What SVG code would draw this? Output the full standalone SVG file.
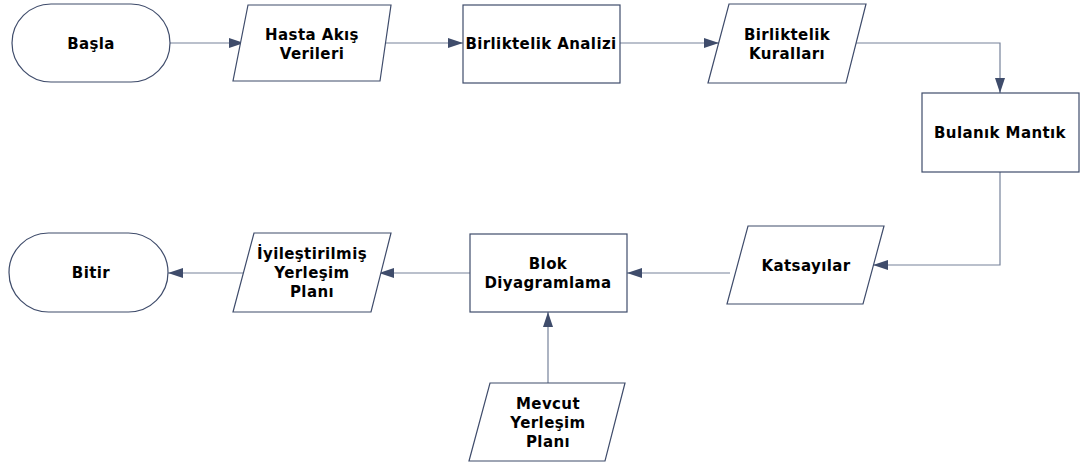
<svg xmlns="http://www.w3.org/2000/svg" width="1082" height="468" viewBox="0 0 1082 468">
  <style>
    .shape { fill: #ffffff; stroke: #3f4c6b; stroke-width: 1.2; }
    .lbl { font-family: "DejaVu Sans", Verdana, sans-serif; font-weight: bold; font-size: 15px; letter-spacing: 0.4px; fill: #000000; text-anchor: middle; }
    .conn { fill: none; stroke: #76829a; stroke-width: 1.2; marker-end: url(#arrow); }
  </style>
  <defs>
    <marker id="arrow" viewBox="0 0 15 10" refX="15" refY="5" markerWidth="15" markerHeight="10" markerUnits="userSpaceOnUse" orient="auto">
      <path d="M0,0 L15,5 L0,10 Z" fill="#3f4c6b"/>
    </marker>
  </defs>

  <!-- connectors -->
  <g id="connectors">
    <path class="conn" d="M170,43 H244"/>
    <path class="conn" d="M383,43 H463"/>
    <path class="conn" d="M620,43 H719"/>
    <path class="conn" d="M856,43 H1000 V93"/>
    <path class="conn" d="M1000,172 V265 H873"/>
    <path class="conn" d="M730,273 H627"/>
    <path class="conn" d="M548,383 V312"/>
    <path class="conn" d="M470,273 H379"/>
    <path class="conn" d="M243,273 H168"/>
  </g>

  <!-- start -->
  <g id="basla">
    <rect class="shape" x="12" y="4" width="158" height="78" rx="39" ry="39"/>
    <text class="lbl" x="91" y="49">Başla</text>
  </g>

  <g id="hasta-akis-verileri">
    <polygon class="shape" points="248,5 391,5 380,81 233,81"/>
    <text class="lbl" x="312" y="40">Hasta Akış</text>
    <text class="lbl" x="312" y="59">Verileri</text>
  </g>

  <g id="birliktelik-analizi">
    <rect class="shape" x="463" y="5" width="157" height="78"/>
    <text class="lbl" x="541" y="49">Birliktelik Analizi</text>
  </g>

  <g id="birliktelik-kurallari">
    <polygon class="shape" points="729,4 866,4 846,83 708,83"/>
    <text class="lbl" x="787" y="40">Birliktelik</text>
    <text class="lbl" x="787" y="59">Kuralları</text>
  </g>

  <g id="bulanik-mantik">
    <rect class="shape" x="922" y="93" width="157" height="79"/>
    <text class="lbl" x="1000" y="138">Bulanık Mantık</text>
  </g>

  <g id="katsayilar">
    <polygon class="shape" points="748,226 884,226 863,304 727,304"/>
    <text class="lbl" x="806" y="271">Katsayılar</text>
  </g>

  <g id="blok-diyagramlama">
    <rect class="shape" x="470" y="234" width="157" height="78"/>
    <text class="lbl" x="548" y="269">Blok</text>
    <text class="lbl" x="548" y="288">Diyagramlama</text>
  </g>

  <g id="mevcut-yerlesim-plani">
    <polygon class="shape" points="490,383 625,383 605,461 469,461"/>
    <text class="lbl" x="548" y="409">Mevcut</text>
    <text class="lbl" x="548" y="428">Yerleşim</text>
    <text class="lbl" x="548" y="447">Planı</text>
  </g>

  <g id="iyilestirilmis-yerlesim-plani">
    <polygon class="shape" points="254,233 391,233 371,312 233,312"/>
    <text class="lbl" x="312" y="259">İyileştirilmiş</text>
    <text class="lbl" x="312" y="278">Yerleşim</text>
    <text class="lbl" x="312" y="297">Planı</text>
  </g>

  <!-- end -->
  <g id="bitir">
    <rect class="shape" x="9" y="233" width="159" height="79" rx="39.5" ry="39.5"/>
    <text class="lbl" x="91" y="278">Bitir</text>
  </g>
</svg>
